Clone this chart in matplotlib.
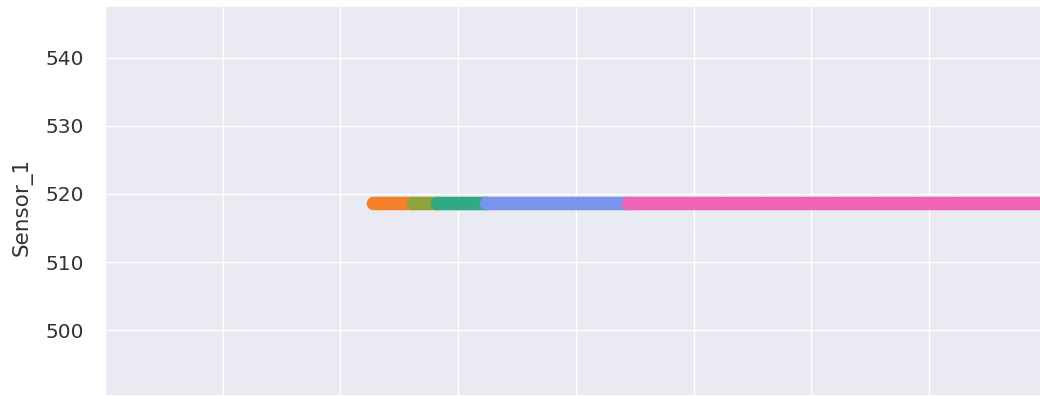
import numpy as np
import matplotlib
matplotlib.use("Agg")
import matplotlib.pyplot as plt
import seaborn as sns

# Cycle ranges for each operating group and the constant Sensor_1 reading
group_names = ["A", "B", "C", "D", "E"]
group_start = [114, 131, 141, 162, 222]
group_end = [131, 141, 162, 222, 400]
group_colors = ["#f5802a", "#8fa33a", "#30a985", "#7a94ec", "#f064b6"]
sensor_1_value = 518.67

sns.set_theme(style="darkgrid")
plt.rcParams["font.family"] = ["DejaVu Sans"]

fig = plt.figure(figsize=(10.4, 3.96), dpi=100)
ax = fig.add_axes([0.101, 0.0, 0.9054, 0.985])

for name, start, end, color in zip(group_names, group_start, group_end, group_colors):
    cycles = np.arange(start, end + 1)
    ax.scatter(cycles, np.full(cycles.shape, sensor_1_value), s=95, color=color,
               linewidths=0, label=name, zorder=3)

ax.set_xlim(0.34, 400)
ax.set_ylim(490.3, 547.65)
ax.set_xticks(np.arange(0, 401, 50))
ax.set_yticks([500, 510, 520, 530, 540])
ax.tick_params(axis="x", labelbottom=False)
ax.tick_params(axis="y", labelsize=14.5, pad=9, colors="#333333")
ax.set_ylabel("Sensor_1", fontsize=15.5, color="#333333")
ax.yaxis.set_label_coords(-0.0764, 0.485)

fig.savefig("out.png", dpi=100)
